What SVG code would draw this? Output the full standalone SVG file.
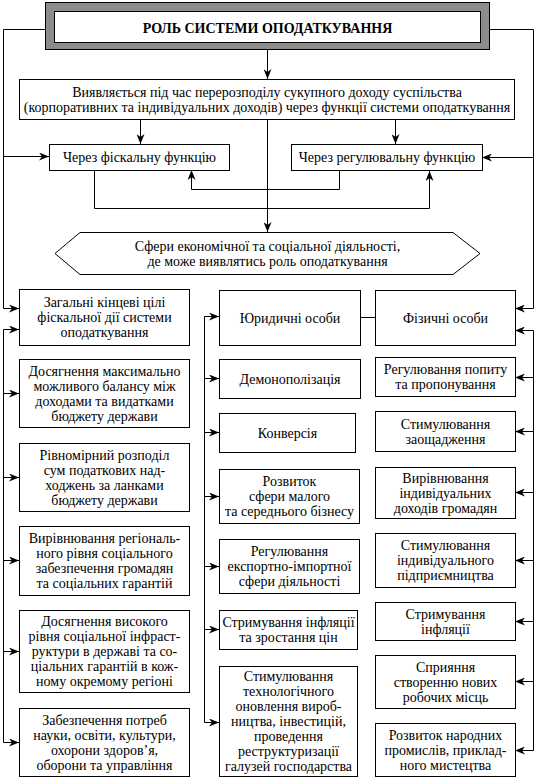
<svg xmlns="http://www.w3.org/2000/svg" width="535" height="778" viewBox="0 0 535 778">
<style>
.t{font-family:"Liberation Serif","Times New Roman",serif;font-size:14px;text-anchor:middle;fill:#000}
.tb{font-weight:bold}
.b{fill:#fff;stroke:#000;stroke-width:1}
.c{fill:none;stroke:#000;stroke-width:1}
.a{marker-end:url(#ah)}
</style>
<defs>
<marker id="ah" viewBox="0 0 10 8" markerWidth="10" markerHeight="8" refX="10" refY="4" orient="auto" markerUnits="userSpaceOnUse">
<path d="M0,0 L10,4 L0,8 L3,4 Z" fill="#000"/>
</marker>
</defs>
<rect width="535" height="778" fill="#fff"/>

<g id="connectors">
<path class="c a" d="M45,29.5 H3.5 V308.5 H19"/>
<path class="c a" d="M3.5,156.5 H49"/>
<path class="c a" d="M490,29.5 H533.5 V308.5 H515"/>
<path class="c a" d="M533.5,157.5 H482"/>
<path class="c a" d="M267.5,50 V79"/>
<path class="c a" d="M140.5,120 V144"/>
<path class="c a" d="M395.5,120 V144"/>
<path class="c a" d="M267.5,120 V232"/>
<path class="c a" d="M94.5,170 V208.5 H429.5 V171"/>
<path class="c a" d="M339.5,171 V189.5 H191.5 V170"/>
<path class="c" d="M3.5,329.5 V742.5"/>
<path class="c a" d="M3.5,329.5 H19"/>
<path class="c a" d="M3.5,393.5 H19"/>
<path class="c a" d="M3.5,477.5 H19"/>
<path class="c a" d="M3.5,560.5 H19"/>
<path class="c a" d="M3.5,651.5 H19"/>
<path class="c a" d="M3.5,742.5 H19"/>
<path class="c" d="M204.5,316.5 V722.5"/>
<path class="c a" d="M204.5,316.5 H219"/>
<path class="c a" d="M204.5,378.5 H219"/>
<path class="c a" d="M204.5,432.5 H219"/>
<path class="c a" d="M204.5,496.5 H219"/>
<path class="c a" d="M204.5,566.5 H219"/>
<path class="c a" d="M204.5,629.5 H219"/>
<path class="c a" d="M204.5,722.5 H219"/>
<path class="c" d="M533.5,330.5 V750.5"/>
<path class="c a" d="M533.5,330.5 H515"/>
<path class="c a" d="M533.5,377.5 H515"/>
<path class="c a" d="M533.5,431.5 H515"/>
<path class="c a" d="M533.5,492.5 H515"/>
<path class="c a" d="M533.5,560.5 H515"/>
<path class="c a" d="M533.5,621.5 H515"/>
<path class="c a" d="M533.5,681.5 H515"/>
<path class="c a" d="M533.5,750.5 H515"/>
<path class="c" d="M360,317.5 H375"/>
</g>

<g id="title">
<rect x="45.5" y="2.5" width="444" height="47" fill="#8c8c8c" stroke="#000"/>
<rect class="b" x="54.5" y="11.5" width="426" height="31"/>
<text class="t tb" x="267.5" y="32.5">РОЛЬ СИСТЕМИ ОПОДАТКУВАННЯ</text>
</g>

<g id="redistribution">
<rect class="b" x="19.5" y="79.5" width="495" height="40"/>
<text class="t" x="267"><tspan x="267" y="97">Виявляється під час перерозподілу сукупного доходу суспільства</tspan><tspan x="267" y="112">(корпоративних та індивідуальних доходів) через функції системи оподаткування</tspan></text>
</g>

<g id="fiscal">
<rect class="b" x="49.5" y="144.5" width="180" height="26"/>
<text class="t" x="139.5" y="162">Через фіскальну функцію</text>
</g>

<g id="regulatory">
<rect class="b" x="291.5" y="144.5" width="191" height="26"/>
<text class="t" x="387" y="162">Через регулювальну функцію</text>
</g>

<g id="spheres">
<polygon class="b" points="55,253.5 80,232.5 453,232.5 480,253.5 453,274.5 80,274.5"/>
<text class="t"><tspan x="267.5" y="250.5">Сфери економічної та соціальної діяльності,</tspan><tspan x="267.5" y="265.5">де може виявлятись роль оподаткування</tspan></text>
</g>

<g id="l1">
<rect class="b" x="19.5" y="289.5" width="170" height="56"/>
<text class="t"><tspan x="104.5" y="307">Загальні кінцеві цілі</tspan><tspan x="104.5" y="322">фіскальної дії системи</tspan><tspan x="104.5" y="337">оподаткування</tspan></text>
</g>
<g id="l2">
<rect class="b" x="19.5" y="359.5" width="170" height="68"/>
<text class="t"><tspan x="104.5" y="375.5">Досягнення максимально</tspan><tspan x="104.5" y="390.5">можливого балансу між</tspan><tspan x="104.5" y="405.5">доходами та видатками</tspan><tspan x="104.5" y="420.5">бюджету держави</tspan></text>
</g>
<g id="l3">
<rect class="b" x="19.5" y="443.5" width="170" height="68"/>
<text class="t"><tspan x="104.5" y="459.5">Рівномірний розподіл</tspan><tspan x="104.5" y="474.5">сум податкових над-</tspan><tspan x="104.5" y="489.5">ходжень за ланками</tspan><tspan x="104.5" y="504.5">бюджету держави</tspan></text>
</g>
<g id="l4">
<rect class="b" x="19.5" y="526.5" width="170" height="69"/>
<text class="t"><tspan x="104.5" y="543">Вирівнювання регіональ-</tspan><tspan x="104.5" y="558">ного рівня соціального</tspan><tspan x="104.5" y="573">забезпечення громадян</tspan><tspan x="104.5" y="588">та соціальних гарантій</tspan></text>
</g>
<g id="l5">
<rect class="b" x="19.5" y="610.5" width="170" height="82"/>
<text class="t"><tspan x="104.5" y="626">Досягнення високого</tspan><tspan x="104.5" y="641">рівня соціальної інфраст-</tspan><tspan x="104.5" y="656">руктури в державі та со-</tspan><tspan x="104.5" y="671">ціальних гарантій в кож-</tspan><tspan x="104.5" y="686">ному окремому регіоні</tspan></text>
</g>
<g id="l6">
<rect class="b" x="19.5" y="708.5" width="170" height="68"/>
<text class="t"><tspan x="104.5" y="724.5">Забезпечення потреб</tspan><tspan x="104.5" y="739.5">науки, освіти, культури,</tspan><tspan x="104.5" y="754.5">охорони здоров’я,</tspan><tspan x="104.5" y="769.5">оборони та управління</tspan></text>
</g>

<g id="m1">
<rect class="b" x="219.5" y="290.5" width="141" height="55"/>
<text class="t" x="290" y="322.5">Юридичні особи</text>
</g>
<g id="m2">
<rect class="b" x="219.5" y="359.5" width="141" height="39"/>
<text class="t" x="290" y="383.5">Демонополізація</text>
</g>
<g id="m3">
<rect class="b" x="219.5" y="413.5" width="136" height="39"/>
<text class="t" x="287.5" y="437.5">Конверсія</text>
</g>
<g id="m4">
<rect class="b" x="219.5" y="469.5" width="140" height="54"/>
<text class="t"><tspan x="289.5" y="486">Розвиток</tspan><tspan x="289.5" y="501">сфери малого</tspan><tspan x="289.5" y="516">та середнього бізнесу</tspan></text>
</g>
<g id="m5">
<rect class="b" x="219.5" y="539.5" width="140" height="54"/>
<text class="t"><tspan x="289.5" y="556">Регулювання</tspan><tspan x="289.5" y="571">експортно-імпортної</tspan><tspan x="289.5" y="586">сфери діяльності</tspan></text>
</g>
<g id="m6">
<rect class="b" x="219.5" y="610.5" width="138" height="39"/>
<text class="t"><tspan x="288.5" y="627">Стримування інфляції</tspan><tspan x="288.5" y="642">та зростання цін</tspan></text>
</g>
<g id="m7">
<rect class="b" x="219.5" y="666.5" width="138" height="110"/>
<text class="t"><tspan x="288.5" y="681">Стимулювання</tspan><tspan x="288.5" y="696">технологічного</tspan><tspan x="288.5" y="711">оновлення вироб-</tspan><tspan x="288.5" y="726">ництва, інвестицій,</tspan><tspan x="288.5" y="741">проведення</tspan><tspan x="288.5" y="756">реструктуризації</tspan><tspan x="288.5" y="771">галузей господарства</tspan></text>
</g>

<g id="r1">
<rect class="b" x="375.5" y="290.5" width="140" height="55"/>
<text class="t" x="445.5" y="322.5">Фізичні особи</text>
</g>
<g id="r2">
<rect class="b" x="375.5" y="357.5" width="140" height="39"/>
<text class="t"><tspan x="445.5" y="374">Регулювання попиту</tspan><tspan x="445.5" y="389">та пропонування</tspan></text>
</g>
<g id="r3">
<rect class="b" x="375.5" y="411.5" width="140" height="40"/>
<text class="t"><tspan x="445.5" y="428.5">Стимулювання</tspan><tspan x="445.5" y="443.5">заощадження</tspan></text>
</g>
<g id="r4">
<rect class="b" x="375.5" y="467.5" width="140" height="51"/>
<text class="t"><tspan x="445.5" y="482.5">Вирівнювання</tspan><tspan x="445.5" y="497.5">індивідуальних</tspan><tspan x="445.5" y="512.5">доходів громадян</tspan></text>
</g>
<g id="r5">
<rect class="b" x="375.5" y="533.5" width="140" height="54"/>
<text class="t"><tspan x="445.5" y="550">Стимулювання</tspan><tspan x="445.5" y="565">індивідуального</tspan><tspan x="445.5" y="580">підприємництва</tspan></text>
</g>
<g id="r6">
<rect class="b" x="375.5" y="602.5" width="140" height="38"/>
<text class="t"><tspan x="445.5" y="618.5">Стримування</tspan><tspan x="445.5" y="633.5">інфляції</tspan></text>
</g>
<g id="r7">
<rect class="b" x="375.5" y="655.5" width="140" height="53"/>
<text class="t"><tspan x="445.5" y="671.5">Сприяння</tspan><tspan x="445.5" y="686.5">створенню нових</tspan><tspan x="445.5" y="701.5">робочих місць</tspan></text>
</g>
<g id="r8">
<rect class="b" x="375.5" y="723.5" width="140" height="53"/>
<text class="t"><tspan x="445.5" y="739.5">Розвиток народних</tspan><tspan x="445.5" y="754.5">промислів, приклад-</tspan><tspan x="445.5" y="769.5">ного мистецтва</tspan></text>
</g>
</svg>
